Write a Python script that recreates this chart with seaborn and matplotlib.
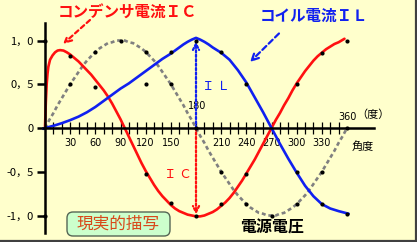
import numpy as np
import pandas as pd
import matplotlib
matplotlib.use("Agg")
import matplotlib.pyplot as plt
from matplotlib.patches import FancyBboxPatch
from matplotlib.transforms import IdentityTransform
import seaborn as sns

# ---------------- data ----------------
angle_v = [0, 5, 10, 15, 20, 25, 30, 35, 40, 45, 50, 55, 60, 65, 70, 75, 80, 85, 90,
           95, 100, 105, 110, 115, 120, 125, 130, 135, 140, 145, 150, 155, 160, 165, 170, 175, 180,
           185, 190, 195, 200, 205, 210, 215, 220, 225, 230, 235, 240, 245, 250, 255, 260, 265, 270,
           275, 280, 285, 290, 295, 300, 305, 310, 315, 320, 325, 330, 335, 340, 345, 350, 355, 360]
voltage = [0.00, 0.09, 0.17, 0.26, 0.34, 0.42, 0.50, 0.57, 0.64, 0.71, 0.77, 0.82, 0.87, 0.91, 0.94,
           0.97, 0.98, 1.00, 1.00,
           1.00, 0.98, 0.97, 0.94, 0.91, 0.87, 0.82, 0.77, 0.71, 0.64, 0.57, 0.50, 0.42, 0.34, 0.26,
           0.17, 0.09, 0.00,
           -0.09, -0.17, -0.26, -0.34, -0.42, -0.50, -0.57, -0.64, -0.71, -0.77, -0.82, -0.87, -0.91,
           -0.94, -0.97, -0.98, -1.00, -1.00,
           -1.00, -0.98, -0.97, -0.94, -0.91, -0.87, -0.82, -0.77, -0.71, -0.64, -0.57, -0.50, -0.42,
           -0.34, -0.26, -0.17, -0.09, 0.00]

angle_ic = [0, 1, 2, 3, 4, 6, 9, 12, 15, 18, 22, 26, 30, 35, 40, 45, 50, 55, 60, 65, 70, 75, 80, 85,
            90, 95, 100, 105, 110, 115, 120, 125, 130, 135, 140, 145, 150, 155, 160, 165, 170, 175,
            180, 185, 190, 195, 200, 205, 210, 215, 220, 225, 230, 235, 240, 245, 250, 255, 260, 265,
            270, 275, 280, 285, 290, 295, 300, 305, 310, 315, 320, 325, 330, 335, 340, 345, 350, 357]
current_c = [0.00, 0.30, 0.50, 0.62, 0.70, 0.78, 0.83, 0.865, 0.885, 0.89, 0.885, 0.865, 0.84, 0.80,
             0.76, 0.71, 0.66, 0.61, 0.55, 0.49, 0.43, 0.36, 0.28, 0.19, 0.10, 0.00, -0.10, -0.20,
             -0.30, -0.40, -0.49, -0.57, -0.65, -0.72, -0.78, -0.83, -0.88, -0.92, -0.95, -0.97,
             -0.99, -1.00, -1.01, -1.01, -1.00, -0.98, -0.96, -0.93, -0.89, -0.85, -0.80, -0.74,
             -0.67, -0.60, -0.52, -0.44, -0.36, -0.27, -0.18, -0.09, 0.00, 0.09, 0.17, 0.26, 0.34,
             0.43, 0.51, 0.58, 0.65, 0.71, 0.77, 0.82, 0.86, 0.90, 0.93, 0.96, 0.98, 1.02]

angle_il = [-2, 0, 10, 20, 30, 40, 50, 60, 70, 80, 90, 100, 110, 120, 130, 140, 150, 155, 160, 165,
            170, 175, 180, 185, 190, 195, 200, 205, 210, 220, 230, 240, 250, 260, 270, 280, 290, 300,
            310, 320, 330, 340, 350, 362]
current_l = [-0.01, 0.00, 0.025, 0.055, 0.09, 0.13, 0.18, 0.24, 0.31, 0.38, 0.45, 0.51, 0.58, 0.65,
             0.72, 0.79, 0.85, 0.885, 0.92, 0.955, 0.985, 1.01, 1.03, 1.01, 0.985, 0.955, 0.92, 0.89,
             0.86, 0.78, 0.66, 0.52, 0.35, 0.18, 0.00, -0.18, -0.35, -0.51, -0.66, -0.78, -0.87,
             -0.92, -0.95, -0.98]

# steady-state sample dots every 30 degrees (as drawn)
dot_angle = [30, 60, 90, 120, 150, 180, 210, 240, 270, 300, 330, 360,
             0, 30, 60, 120, 150, 180, 210, 240, 300, 330, 360,
             0, 120, 150, 180, 210, 240, 300, 330, 360]
dot_value = [0.50, 0.87, 1.00, 0.87, 0.50, 0.00, -0.50, -0.87, -1.00, -0.87, -0.50, 0.00,
             1.00, 0.82, 0.47, -0.52, -0.86, -1.00, -0.87, -0.52, 0.50, 0.86, 1.00,
             -1.00, 0.50, 0.87, 1.00, 0.87, 0.50, -0.50, -0.87, -0.98]

xtick_pos = list(range(10, 360, 10))
xtick_lab = ["30", "60", "90", "120", "150", "210", "240", "270", "300", "330"]
ytick_pos = [-1.0, -0.5, 0.0, 0.5, 1.0]
ytick_lab = ["-1，0", "-0，5", "0", "0，5", "1，0"]

# ---------------- styling ----------------
BG = "#FFFFCC"
RED = "#FF1010"
BLUE = "#1020F0"
GRAY = "#808080"

sns.set_theme(style="white")
plt.rcParams["font.family"] = ["Noto Sans CJK JP", "DejaVu Sans"]

W, H = 417, 242
fig = plt.figure(figsize=(W / 100, H / 100), dpi=100, facecolor=BG)
ax = fig.add_axes([0, 0, 1, 1], facecolor=BG)

# pixel mapping of the reference: x px = 45 + deg*151/180 ; y px = 128 - v*87.5
dpp = 180 / 151
ax.set_xlim((0 - 45) * dpp, (W - 45) * dpp)
ax.set_ylim((128 - H) / 87.5, 128 / 87.5)

df_v = pd.DataFrame({"angle": angle_v, "value": voltage})
df_c = pd.DataFrame({"angle": angle_ic, "value": current_c})
df_l = pd.DataFrame({"angle": angle_il, "value": current_l})
df_d = pd.DataFrame({"angle": dot_angle, "value": dot_value})

sns.lineplot(data=df_v, x="angle", y="value", ax=ax, color=GRAY, lw=1.9, sort=False,
             linestyle=(0, (1.5, 1.1)), zorder=2)
sns.lineplot(data=df_c, x="angle", y="value", ax=ax, color=RED, lw=1.9, sort=False, zorder=3)
sns.lineplot(data=df_l, x="angle", y="value", ax=ax, color=BLUE, lw=1.9, sort=False, zorder=4)
sns.scatterplot(data=df_d, x="angle", y="value", ax=ax, color="black", s=9, linewidth=0, zorder=6)

# axes as spines crossing at origin
for s in ["top", "right"]:
    ax.spines[s].set_visible(False)
ax.spines["left"].set_position(("data", 0))
ax.spines["bottom"].set_position(("data", 0))
ax.spines["left"].set_bounds(-1.2, 1.2)
ax.spines["bottom"].set_bounds(-2, (374 - 45) * dpp)
for s in ["left", "bottom"]:
    ax.spines[s].set_color("black")
    ax.spines[s].set_linewidth(1.8)
    ax.spines[s].set_zorder(5)

labels_full = []
k = 0
for p in xtick_pos:
    if p % 30 == 0 and p != 180:
        labels_full.append(xtick_lab[k]); k += 1
    else:
        labels_full.append("")
ax.set_xticks(xtick_pos)
ax.set_xticklabels(labels_full, family=["Liberation Sans Narrow", "DejaVu Sans"], fontsize=7)
ax.tick_params(axis="x", direction="inout", length=8.5, width=0.9, color="black", pad=3,
               labelcolor="black", bottom=True)
ax.set_yticks(ytick_pos)
ax.set_yticklabels(ytick_lab, fontsize=8)
ax.tick_params(axis="y", direction="out", length=5.5, width=1.8, color="black", pad=2.5,
               labelcolor="black", left=True)
ax.set_xlabel("")
ax.set_ylabel("")
ax.grid(False)

# ---------------- annotations ----------------
ax.text(181, 0.25, "180", fontsize=7, family=["Liberation Sans Narrow", "DejaVu Sans"],
        ha="center", va="center", color="black")
ax.text(361, 0.13, "360", fontsize=7, family=["Liberation Sans Narrow", "DejaVu Sans"],
        ha="center", va="center", color="black")
ax.text(391, 0.15, "（度）", fontsize=8, ha="center", va="center", color="black")
ax.text(379, -0.21, "角度", fontsize=8, ha="center", va="center", color="black")
ax.text(270.6, -1.14, "電源電圧", fontsize=11.5, weight="bold", ha="center", va="center", color="black")

ax.text(98.9, 1.314, "コンデンサ電流ＩＣ", fontsize=11.2, weight="bold", ha="center", va="center", color=RED)
ax.text(320.7, 1.28, "コイル電流ＩＬ", fontsize=11.2, weight="bold", ha="center", va="center", color=BLUE)
ax.text(203.8, 0.48, "Ｉ Ｌ", fontsize=9, ha="center", va="center", color=BLUE)
ax.text(158.5, -0.526, "Ｉ Ｃ", fontsize=9, ha="center", va="center", color=RED)

ax.annotate("", xy=(21.5, 0.96), xytext=(53.6, 1.234),
            arrowprops=dict(arrowstyle="->", color=RED, lw=1.6, linestyle=(0, (2, 1.5)),
                            shrinkA=0, shrinkB=0, mutation_scale=12))
ax.annotate("", xy=(244.4, 0.754), xytext=(278.9, 1.08),
            arrowprops=dict(arrowstyle="->", color=BLUE, lw=1.6, linestyle=(0, (2.5, 1.5)),
                            shrinkA=0, shrinkB=0, mutation_scale=12))
ax.annotate("", xy=(180, 0.99), xytext=(180, 0.0),
            arrowprops=dict(arrowstyle="->", color=BLUE, lw=1.6, linestyle=(0, (1, 1)),
                            shrinkA=0, shrinkB=0, mutation_scale=11), zorder=5)
ax.annotate("", xy=(180, -0.99), xytext=(180, 0.0),
            arrowprops=dict(arrowstyle="->", color=RED, lw=1.6, linestyle=(0, (1, 1)),
                            shrinkA=0, shrinkB=0, mutation_scale=11), zorder=5)

# label box (pixel coordinates)
box = FancyBboxPatch((67, H - 236), 103, 24, boxstyle="round,pad=0,rounding_size=6",
                     transform=IdentityTransform(), facecolor="#CCFFCC", edgecolor="#556655",
                     lw=1.0, zorder=7)
fig.patches.append(box)
fig.text(118.5 / W, 1 - 224 / H, "現実的描写", fontsize=12, color="#D8481A",
         ha="center", va="center", zorder=8)

# frame lines on right and bottom
fig.add_artist(plt.Line2D([0, 1], [0.004, 0.004], transform=fig.transFigure, color="#404040", lw=1.6))
fig.add_artist(plt.Line2D([0.997, 0.997], [0, 1], transform=fig.transFigure, color="#404040", lw=1.6))

fig.savefig("out.png", dpi=100, facecolor=BG)
